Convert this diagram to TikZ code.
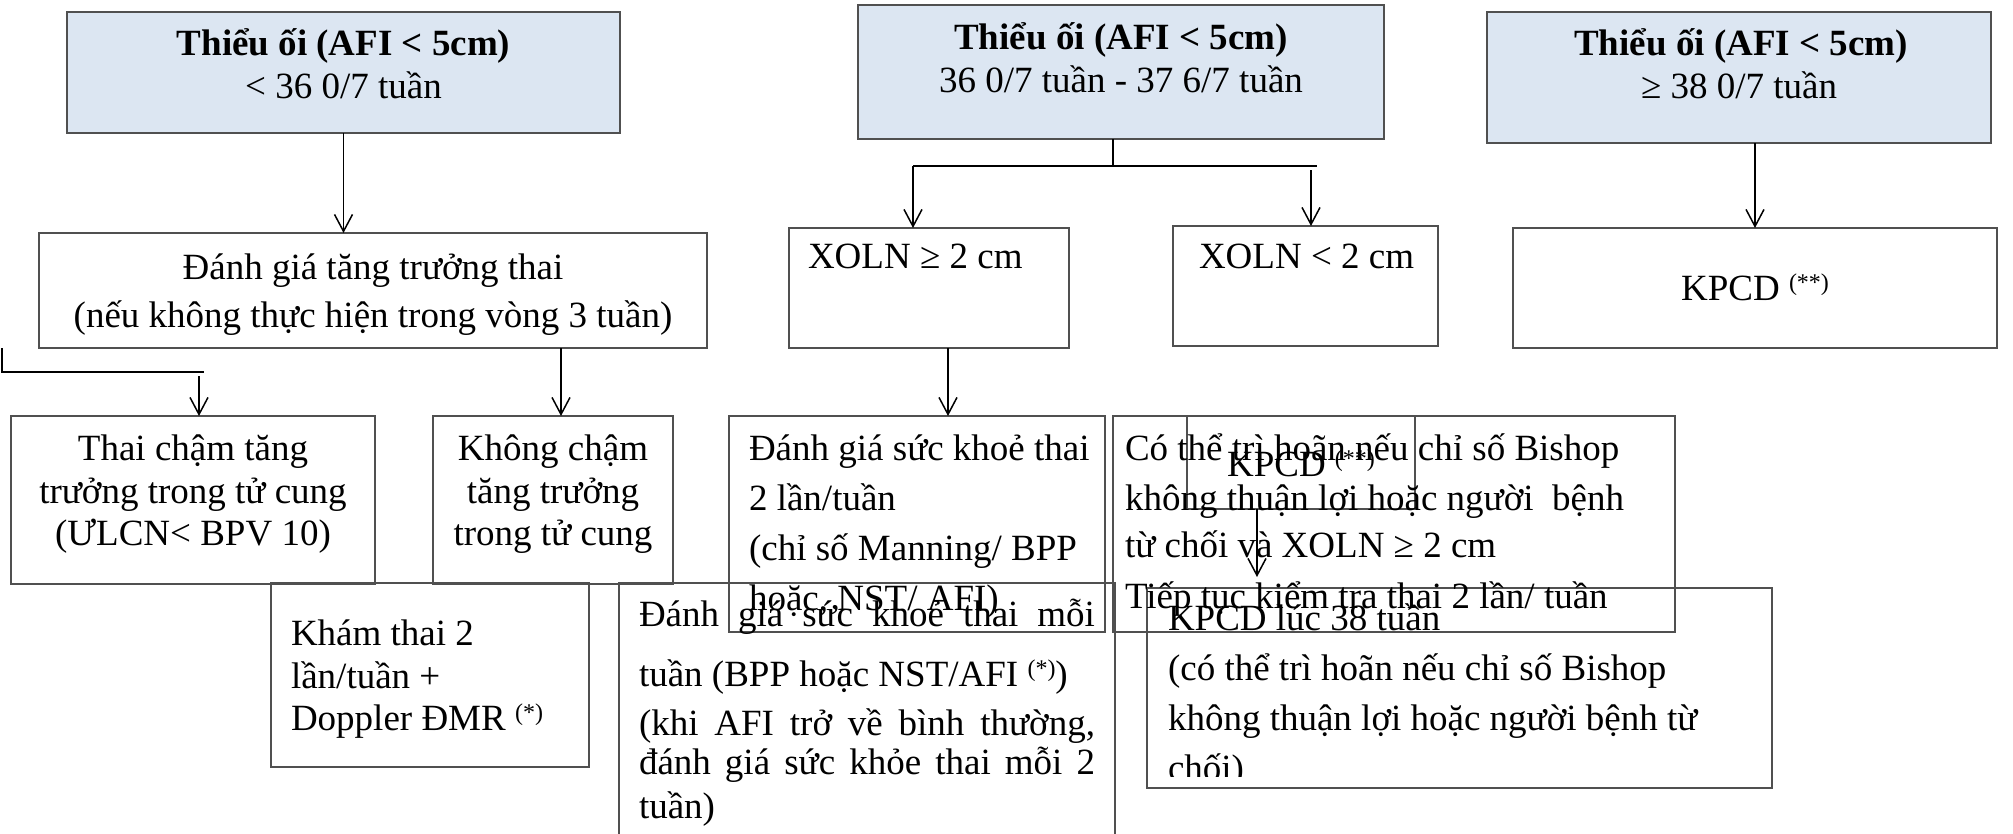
\documentclass[tikz,border=0pt]{standalone}
\usepackage{fontspec}
\setmainfont{Liberation Serif}
\usetikzlibrary{arrows.meta,fit}
\definecolor{hdrblue}{HTML}{DCE6F2}
\definecolor{edgegray}{HTML}{505050}
\newcommand\sups[1]{\raisebox{10pt}{\fontsize{24}{24}\selectfont #1}}
\newcommand\txL[4]{\node[txt,anchor=base west] (#1) at (#2,#3) {#4};}
\newcommand\txC[4]{\node[txt,anchor=base] (#1) at (#2,#3) {#4};}
\newcommand\txJ[5]{\node[txt,anchor=base west] (#1) at (#2,#3) {\makebox[#4pt][s]{#5}};}
\begin{document}
\begin{tikzpicture}[x=1pt,y=-1pt,
  box/.style={draw=edgegray,line width=1.3pt,inner sep=0pt,outer sep=0pt,rectangle},
  hdr/.style={box,fill=hdrblue},
  txt/.style={inner sep=0pt,outer sep=0pt,font=\fontsize{37}{44}\selectfont},
  arr/.style={line width=1.5pt,-{Straight Barb[length=17pt,width=18pt,line width=1.5pt]}},
  thickln/.style={line width=2.2pt}]
\useasboundingbox (0,0) rectangle (2013,833);
\clip (0,0) rectangle (2013,833);
% boxes
\node[hdr,fit={(67,12)(620,133)}] (b1) {};
\node[hdr,fit={(858,5)(1384,139)}] (b3) {};
\node[hdr,fit={(1487,12)(1991,143)}] (b4) {};
\node[box,fit={(39,233)(707,348)}] (b2) {};
\node[box,fit={(789,228)(1069,348)}] (x1) {};
\node[box,fit={(1173,226)(1438,346)}] (x2) {};
\node[box,fit={(1513,228)(1997,348)}] (kp) {};
\node[box,fit={(11,416)(375,584)}] (tc) {};
\node[box,fit={(433,416)(673,584)}] (kc) {};
\node[box,fit={(271,583)(589,767)}] (kt) {};
\node[box,fit={(729,416)(1105,632)}] (bl) {};
\node[box,fit={(619,583)(1115,860)}] (mt) {};
\node[box,fit={(1113,416)(1675,632)}] (ct) {};
\node[box,fit={(1187,416)(1415,509)}] (ks) {};
\node[box,fit={(1147,588)(1772,788)}] (kl) {};
% connectors
\draw[arr] (b1.south) -- (b1.south |- b2.north);
\coordinate (la) at (2,348);
\coordinate (lb) at (2,372);
\coordinate (lc) at (204,372);
\draw[thickln] (la) -- (lb) -- (lc);
\coordinate (ld) at (199,376);
\draw[arr] (ld) -- (ld |- tc.north);
\coordinate (ke) at (561,0);
\draw[arr] (ke |- b2.south) -- (ke |- kc.north);
\coordinate (jm) at (1113,166);
\coordinate (jl) at (913,166);
\coordinate (jr) at (1317,166);
\draw[line width=1.5pt] (jm |- b3.south) -- (jm);
\draw[thickln] (jl) -- (jr);
\draw[arr] (jl) -- (jl |- x1.north);
\coordinate (rs) at (1311,170);
\draw[arr] (rs) -- (rs |- x2.north);
\coordinate (xa) at (948,0);
\draw[arr] (xa |- x1.south) -- (xa |- bl.north);
\draw[arr] (kp.north |- b4.south) -- (kp.north);
\coordinate (kz) at (1257,577);
\draw[arr] (kz |- ks.south) -- (kz);
% texts
\txC{t1a}{343.5}{55}{\textbf{Thiểu ối (AFI < 5cm)}}
\txC{t1b}{343.5}{98}{< 36 0/7 tuần}
\txC{t3a}{1121}{49}{\textbf{Thiểu ối (AFI < 5cm)}}
\txC{t3b}{1121}{92}{36 0/7 tuần - 37 6/7 tuần}
\txC{t4a}{1741}{55}{\textbf{Thiểu ối (AFI < 5cm)}}
\txC{t4b}{1739}{98}{≥ 38 0/7 tuần}
\txC{t2a}{373}{279}{Đánh giá tăng trưởng thai}
\txC{t2b}{373}{327}{(nếu không thực hiện trong vòng 3 tuần)}
\txL{tx1}{808}{268}{XOLN ≥ 2 cm}
\txL{tx2}{1199}{268}{XOLN < 2 cm}
\txC{tkp}{1755}{300}{KPCD \sups{(**)}}
\txC{tc1}{193}{460}{Thai chậm tăng}
\txC{tc2}{193}{503}{trưởng trong tử cung}
\txC{tc3}{193}{545}{(ƯLCN< BPV 10)}
\txC{kc1}{553}{460}{Không chậm}
\txC{kc2}{553}{503}{tăng trưởng}
\txC{kc3}{553}{545}{trong tử cung}
\txL{kt1}{291}{645}{Khám thai 2}
\txL{kt2}{291}{688}{lần/tuần +}
\txL{kt3}{291}{730}{Doppler ĐMR \sups{(*)}}
\txL{bl1}{749}{460}{Đánh giá sức khoẻ thai}
\txL{bl2}{749}{510}{2 lần/tuần}
\txL{bl3}{749}{560}{(chỉ số Manning/ BPP}
\txL{bl4}{749}{610}{hoặc, NST/ AFI)}
\txJ{mt1}{639}{626}{456}{Đánh giá sức khoẻ thai mỗi}
\txL{mt2}{639}{686}{tuần (BPP hoặc NST/AFI \sups{(*)})}
\txJ{mt3}{639}{735}{456}{(khi AFI trở về bình thường,}
\txJ{mt4}{639}{774}{456}{đánh giá sức khỏe thai mỗi 2}
\txL{mt5}{639}{818}{tuần)}
\txL{ct1}{1125}{460}{Có thể trì hoãn nếu chỉ số Bishop}
\txL{ct2}{1125}{510}{không thuận lợi hoặc người\ \ bệnh}
\txL{ct3}{1125}{557}{từ chối và XOLN ≥ 2 cm}
\txL{ct4}{1125}{608}{Tiếp tục kiểm tra thai 2 lần/ tuần}
\txC{tks}{1301}{476}{KPCD \sups{(**)}}
\begin{scope}
\clip (1147,588) rectangle (1772,776);
\txL{kl1}{1168}{630}{KPCD lúc 38 tuần}
\txL{kl2}{1168}{680}{(có thể trì hoãn nếu chỉ số Bishop}
\txL{kl3}{1168}{730}{không thuận lợi hoặc người bệnh từ}
\txL{kl4}{1168}{780}{chối)}
\end{scope}
\end{tikzpicture}
\end{document}
